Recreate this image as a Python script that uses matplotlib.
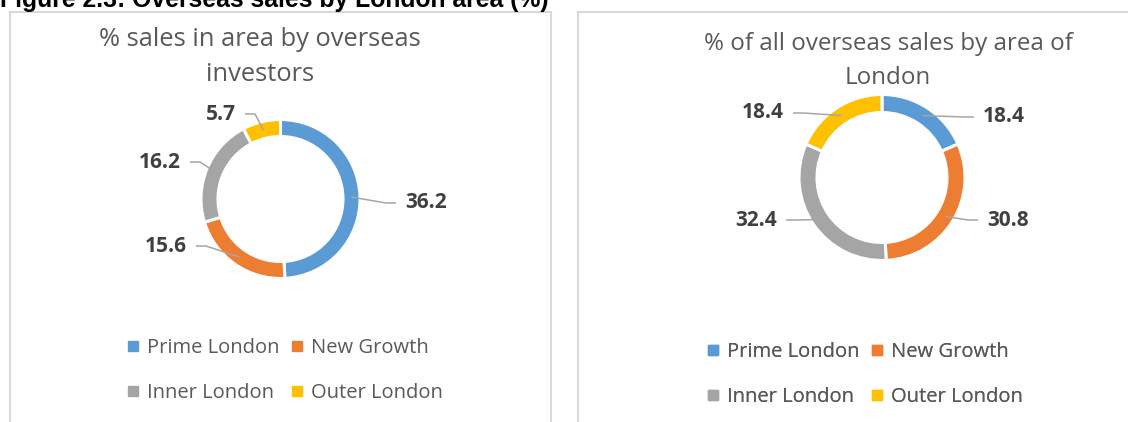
import matplotlib.pyplot as plt
from matplotlib.patches import Rectangle
from matplotlib.lines import Line2D
import numpy as np

# data
areas = ['Prime London', 'New Growth', 'Inner London', 'Outer London']
colors = ['#5B9BD5', '#ED7D31', '#A5A5A5', '#FFC000']
share_in_area = [36.2, 15.6, 16.2, 5.7]
share_of_overseas = [18.4, 30.8, 32.4, 18.4]

fig_title = 'Figure 2.3: Overseas sales by London area (%)'
title_left = '% sales in area by overseas\ninvestors'
title_right = '% of all overseas sales by area of\nLondon'

W, H = 1128, 422
fig = plt.figure(figsize=(W / 100, H / 100), dpi=100)
ax = fig.add_axes([0, 0, 1, 1])


def py(y):
    # pixel row (from top) -> data y
    return H - y


def donut(vals, cx, cy, r, ring, lab_x, lab_y, lab_ha):
    wedges, _ = ax.pie(vals, colors=colors, startangle=90, counterclock=False,
                       radius=r, center=(cx, py(cy)),
                       wedgeprops=dict(width=ring, edgecolor='white', linewidth=2.2))
    rm = r - ring / 2
    for w, v, tx, ty, ha in zip(wedges, vals, lab_x, lab_y, lab_ha):
        a = np.deg2rad((w.theta1 + w.theta2) / 2)
        x0, y0 = cx + rm * np.cos(a), py(cy) + rm * np.sin(a)
        s = 1 if ha == 'left' else -1
        x_end = tx - s * 9
        x_elb = x_end - s * 10
        ax.plot([x0, x_elb, x_end], [y0, py(ty), py(ty)], color='#A6A6A6', lw=1.1,
                solid_capstyle='butt', zorder=3)
        ax.text(tx, py(ty), f'{v:.1f}', ha=ha, va='center', fontsize=15,
                fontweight='bold', color='#404040', family='Open Sans')


donut(share_in_area, 280.5, 199, 79.5, 17,
      [405, 187, 181, 236], [203, 246, 162, 114],
      ['left', 'right', 'right', 'right'])
donut(share_of_overseas, 882, 177.5, 83, 18,
      [983, 987, 777, 784], [117, 220, 220, 113],
      ['left', 'left', 'right', 'right'])

ax.set_xlim(0, W)
ax.set_ylim(0, H)
ax.set_aspect('auto')
ax.axis('off')

# panel borders
for x0, x1 in [(10, 551), (578, 1160)]:
    ax.add_patch(Rectangle((x0, py(440)), x1 - x0, 440 - 12, fill=False,
                           edgecolor='#D9D9D9', lw=1.5, clip_on=False))

ax.text(0, py(7.5), fig_title, ha='left', va='baseline', fontsize=17.8,
        fontweight='bold', family='Liberation Sans', color='black')
ax.text(260, py(57), title_left, ha='center', va='center', fontsize=18.4,
        color='#595959', family='Open Sans', linespacing=1.5)
ax.text(888, py(61), title_right, ha='center', va='center', fontsize=17.4,
        color='#595959', family='Open Sans', linespacing=1.5)

# legend filled column-wise, so reorder to read row-wise
order = [0, 2, 1, 3]
handles = [Line2D([], [], marker='s', ls='', color=colors[i], markersize=7) for i in order]
labels = [areas[i] for i in order]
for lx, ly in [(285, 370.5), (865, 374.5)]:
    leg = ax.legend(handles, labels, ncol=2, loc='center',
                    bbox_to_anchor=(lx, py(ly)), bbox_transform=ax.transData,
                    frameon=False, handlelength=0.6, handletextpad=0.4,
                    columnspacing=0.6, labelspacing=1.2,
                    prop={'family': 'Open Sans', 'size': 14.5})
    for t in leg.get_texts():
        t.set_color('#595959')
    ax.add_artist(leg)

fig.savefig('out.png', dpi=100)
